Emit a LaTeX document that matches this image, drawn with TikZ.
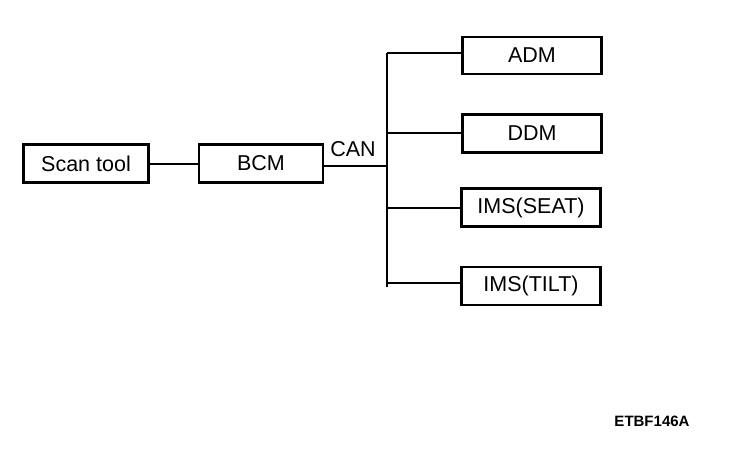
\documentclass[tikz,border=0pt]{standalone}
\usepackage{fontspec}
\setmainfont{Liberation Sans}
\usepackage{tikz}

\begin{document}
\begin{tikzpicture}[x=1pt,y=-1pt,line width=2pt,
		unit/.style={draw,line width=2.2pt,minimum height=38pt,inner sep=0pt,font=\fontsize{21.5}{24}\selectfont}]
			\useasboundingbox (0,0) rectangle (736,456);
			\node[unit,minimum width=125pt] (scan) at (86,163.5) {Scan tool};
			\node[unit,minimum width=124pt] (bcm) at (261,163.5) {BCM};
			\node[unit,minimum width=139pt,minimum height=37pt] (adm) at (532,55.5) {ADM};
			\node[unit,minimum width=139pt] (ddm) at (532,133.5) {DDM};
			\node[unit,minimum width=139pt] (seat) at (531,207.5) {IMS(SEAT)};
			\node[unit,minimum width=139pt] (tilt) at (531,286) {IMS(TILT)};
			\node[font=\fontsize{21.5}{24}\selectfont] (can) at (353,149) {CAN};
			\node[font=\bfseries\fontsize{15}{18}\selectfont] (code) at (652,421) {ETBF146A};
			\coordinate (top) at (387,53);
			\coordinate (bot) at (387,287);
			\coordinate (in) at (387,166);
			\draw (scan.east) -- (bcm.west);
			\draw (bcm.east |- in) -- (in);
			\draw (top) -- (bot);
			\foreach \b/\y in {adm/53,ddm/133,seat/208,tilt/283}{ \draw (387,\y) -- (\b.west |- 0,\y); }
		\end{tikzpicture}
\end{document}
